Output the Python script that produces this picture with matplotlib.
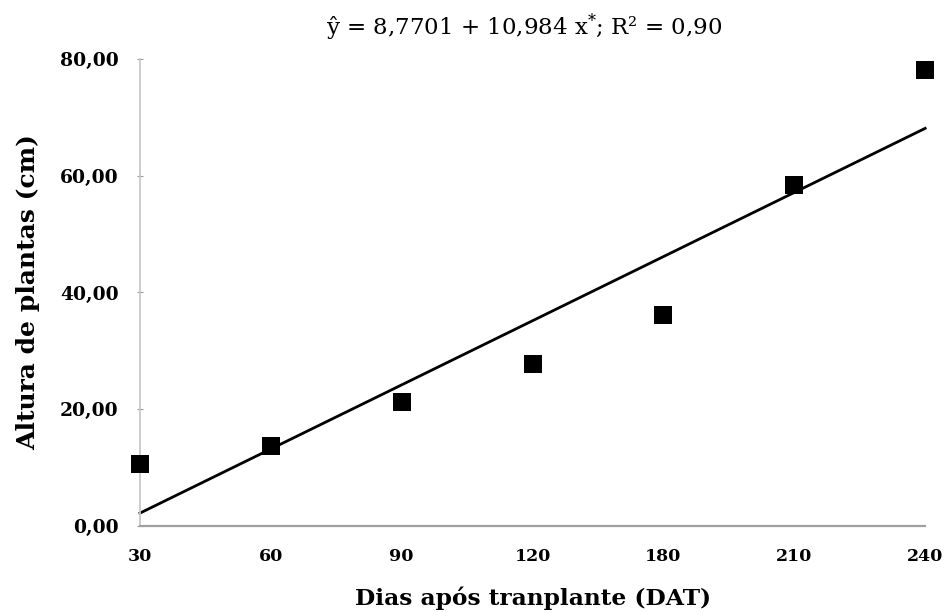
import matplotlib
matplotlib.use("Agg")
import matplotlib.pyplot as plt
import numpy as np

categories = ["30", "60", "90", "120", "180", "210", "240"]
altura = [10.6, 13.7, 21.2, 27.7, 36.2, 58.4, 78.1]
intercept = -8.7701
slope = 10.984
y_ticks = [0, 20, 40, 60, 80]
y_tick_labels = ["0,00", "20,00", "40,00", "60,00", "80,00"]
equation = "ŷ = 8,7701 + 10,984 x$^{*}$; R² = 0,90"

plt.rcParams['font.family'] = ['DejaVu Serif']
plt.rcParams['mathtext.fontset'] = 'dejavuserif'

fig = plt.figure(figsize=(9.46, 6.13), dpi=100)
ax = fig.add_axes([0.148, 0.1419, 0.830, 0.7619])

x = np.arange(len(categories))
ax.scatter(x, altura, marker='s', s=150, color='black', zorder=3, clip_on=False, linewidths=0)
idx = np.arange(1, len(categories) + 1)
ax.plot(x, intercept + slope * idx, color='black', linewidth=2, zorder=2, clip_on=False)

ax.set_xlim(0, len(categories) - 1)
ax.set_ylim(0, 80)
ax.set_xticks(x)
ax.set_xticklabels(categories, fontsize=12.5, fontweight='bold')
ax.set_yticks(y_ticks)
ax.set_yticklabels(y_tick_labels, fontsize=13.5, fontweight='bold')
ax.tick_params(axis='x', length=0, pad=16)
ax.tick_params(axis='y', length=5, direction='inout', color='#999999', pad=13)

for s in ['top', 'right']:
    ax.spines[s].set_visible(False)
ax.spines['left'].set_color('#c8c8c8')
ax.spines['left'].set_linewidth(1.3)
ax.spines['bottom'].set_color('#a0a0a0')
ax.spines['bottom'].set_linewidth(1.6)

ax.set_xlabel("Dias após tranplante (DAT)", fontsize=16.8, fontweight='bold', labelpad=15)
ax.set_ylabel("Altura de plantas (cm)", fontsize=18, fontweight='bold', labelpad=14)

fig.text(0.554, 0.956, equation, ha='center', va='center', fontsize=16.5)

fig.savefig("out.png", dpi=100)
